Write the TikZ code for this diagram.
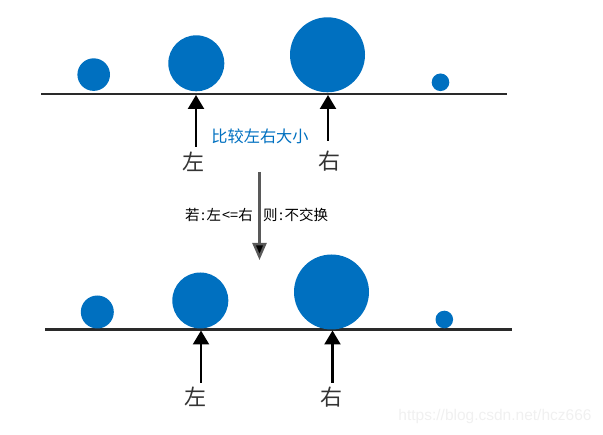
\documentclass[tikz,border=0pt]{standalone}
\usepackage{fontspec}
\setmainfont{Liberation Sans}
\newfontfamily\cjk{Noto Sans CJK SC}
\usetikzlibrary{arrows.meta}
\definecolor{ballblue}{HTML}{0070C0}
\definecolor{linegray}{HTML}{2a2a2a}
\tikzset{
  ball/.style={circle, fill=ballblue, draw=none, inner sep=0pt, minimum size=#1},
  baseline/.style={draw=linegray, line width=2.6pt},
  pointer/.style={draw=black, line width=2.4pt, -{Triangle[width=16pt,length=14pt]}},
  flow/.style={draw=black!65, line width=2.4pt, -{Triangle[width=14pt,length=17pt,fill=black]}},
  bigchar/.style={font=\cjk\fontsize{22}{24}\selectfont, text=black!80, inner sep=0pt},
  note/.style={font=\cjk\fontsize{14.5}{16}\selectfont, text=black, inner sep=0pt},
  bluenote/.style={font=\cjk\fontsize{16.2}{18}\selectfont, text=ballblue, inner sep=0pt},
  wmark/.style={font=\fontsize{15.5}{17}\selectfont, text=black!6, inner sep=0pt}
}
\begin{document}
\begin{tikzpicture}[x=1pt,y=-1pt]
\useasboundingbox (0,0) rectangle (603,435);
% top row
\coordinate (tl) at (41,94);
\coordinate (tr) at (507,94);
\draw[baseline] (tl) -- (tr);
\node[ball=32.6pt] (a1) at (93.7,74.6) {};
\node[ball=56pt] (a2) at (196.3,63.3) {};
\node[ball=75pt] (a3) at (327.5,54.8) {};
\node[ball=17.6pt] (a4) at (440.5,82.3) {};
\coordinate (la) at (196,95);
\coordinate (lb) at (196,147);
\coordinate (ra) at (328,95);
\coordinate (rb) at (328,141);
\draw[pointer] (lb) -- (la);
\draw[pointer] (rb) -- (ra);
\node[bluenote] (cmp) at (260,136) {比较左右大小};
\node[bigchar] (L1) at (193,162) {左};
\node[bigchar] (R1) at (329,161) {右};
% middle
\coordinate (ma) at (259.5,172);
\coordinate (mb) at (259.5,260);
\draw[flow] (ma) -- (mb);
\node[note, anchor=east] (cond1) at (253,215) {若\hspace{1.5pt}:\hspace{1.5pt}左\hspace{1pt}<=右};
\node[note, anchor=west] (cond2) at (263,215) {则\hspace{1.5pt}:\hspace{1.5pt}不交换};
% bottom row
\coordinate (bl) at (45,329.5);
\coordinate (br) at (512,329.5);
\draw[baseline] (bl) -- (br);
\node[ball=33pt] (b1) at (97.3,312) {};
\node[ball=56pt] (b2) at (200.3,300.5) {};
\node[ball=75pt] (b3) at (331.5,292) {};
\node[ball=17.6pt] (b4) at (444.3,319.5) {};
\coordinate (lc) at (201,330.5);
\coordinate (ld) at (201,383);
\coordinate (rc) at (332.5,330.5);
\coordinate (rd) at (332.5,383);
\draw[pointer] (ld) -- (lc);
\draw[pointer] (rd) -- (rc);
\node[bigchar] (L2) at (195,397) {左};
\node[bigchar] (R2) at (331.5,397) {右};
\node[wmark] (wm) at (495,416) {https://blog.csdn.net/hcz666};
\end{tikzpicture}
\end{document}
